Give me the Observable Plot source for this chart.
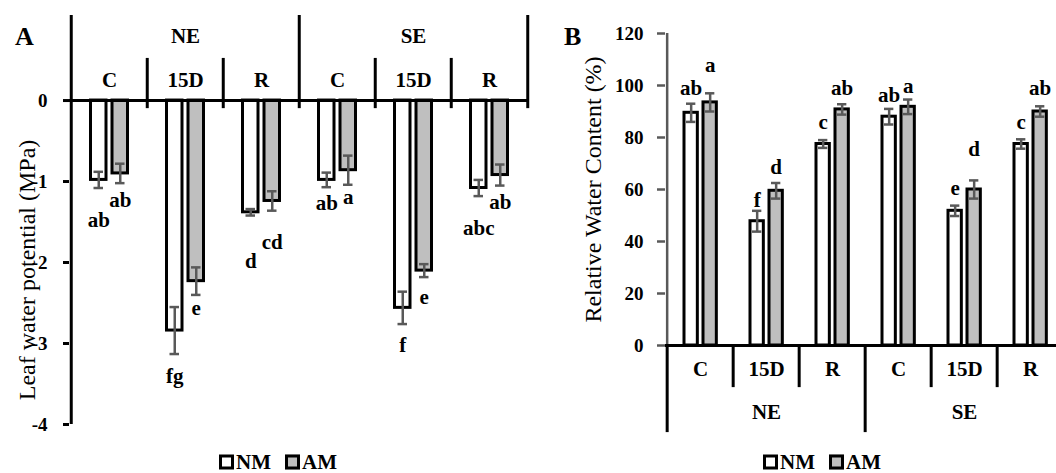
<!DOCTYPE html>
<html><head><meta charset="utf-8">
<script src="https://cdn.jsdelivr.net/npm/d3@7"></script>
<script src="https://cdn.jsdelivr.net/npm/@observablehq/plot@0.6"></script>
<style>
html,body{margin:0;padding:0;background:#fff;overflow:hidden;width:1056px;height:473px;}
#root{position:relative;width:1056px;height:473px;font-family:"Liberation Serif",serif;color:#000;}
.panel{position:absolute;top:0;}
.plabel{position:absolute;font-weight:bold;font-size:26px;line-height:1;}
.legend{position:absolute;display:flex;align-items:center;font-weight:bold;font-size:21px;line-height:1;transform:translate(-50%,-50%);}
.sw{display:inline-block;width:9px;height:9px;border:3px solid #000;margin-right:2px;}
</style></head><body><div id="root"></div>
<script>
// ---------- data ----------
const groups = ["NE", "SE"];
const stages = ["C", "15D", "R"];
const treatments = ["NM", "AM"];
// order of values: NE C, NE 15D, NE R, SE C, SE 15D, SE R
// Panel A: leaf water potential (MPa)
const lwpNM = [-0.98, -2.84, -1.38, -0.98, -2.56, -1.08];
const lwpNMerr = [0.10, 0.29, 0.04, 0.09, 0.20, 0.10];
const lwpAM = [-0.90, -2.23, -1.24, -0.86, -2.10, -0.92];
const lwpAMerr = [0.12, 0.17, 0.12, 0.18, 0.08, 0.13];
const lwpLetNM = ["ab", "fg", "d", "ab", "f", "abc"];
const lwpLetAM = ["ab", "e", "cd", "a", "e", "ab"];
const lwpLetAtNM = [-1.48, -3.40, -1.98, -1.27, -3.02, -1.58];
const lwpLetAtAM = [-1.23, -2.56, -1.75, -1.20, -2.43, -1.26];
const lwpTicks = [0, -1, -2, -3, -4];
// Panel B: relative water content (%)
const rwcNM = [89.5, 47.8, 77.5, 88.0, 51.8, 77.5];
const rwcNMerr = [3.5, 4.0, 1.5, 3.0, 2.0, 1.8];
const rwcAM = [93.5, 59.5, 90.8, 91.8, 60.0, 90.0];
const rwcAMerr = [3.5, 3.0, 2.0, 2.8, 3.5, 2.0];
const rwcLetNM = ["ab", "f", "c", "ab", "e", "c"];
const rwcLetAM = ["a", "d", "ab", "a", "d", "ab"];
const rwcLetAtNM = [98.8, 55.8, 85.8, 96.2, 60.4, 85.8];
const rwcLetAtAM = [107.7, 68.5, 98.8, 99.6, 75.4, 98.8];
const rwcTicks = [0, 20, 40, 60, 80, 100, 120];

// ---------- build tables ----------
const combos = groups.flatMap(g => stages.map(s => g + " " + s));
function rows(nm, nmE, am, amE, lNM, lAM, atNM, atAM) {
  return combos.flatMap((c, i) => [
    {combo: c, trt: "NM", v: nm[i], e: nmE[i], letter: lNM[i], at: atNM[i]},
    {combo: c, trt: "AM", v: am[i], e: amE[i], letter: lAM[i], at: atAM[i]}
  ]);
}
const rowsA = rows(lwpNM, lwpNMerr, lwpAM, lwpAMerr, lwpLetNM, lwpLetAM, lwpLetAtNM, lwpLetAtAM);
const rowsB = rows(rwcNM, rwcNMerr, rwcAM, rwcAMerr, rwcLetNM, rwcLetAM, rwcLetAtNM, rwcLetAtAM);

const FONT = "Liberation Serif, serif";
const ERR = "#595959";
const FILL = {NM: "#ffffff", AM: "#bfbfbf"};

function seriesMarks(data, bw, geom, letterSize) {
  const marks = [];
  for (const t of treatments) {
    const d = data.filter(r => r.trt === t);
    const g = geom[t];
    marks.push(Plot.barY(d, {x: "combo", y: "v", fill: FILL[t], stroke: "#000", strokeWidth: 3,
      insetLeft: g.c - g.w / 2, insetRight: bw - g.c - g.w / 2}));
  }
  for (const t of treatments) {
    const d = data.filter(r => r.trt === t);
    const g = geom[t];
    const dx = g.c - bw / 2;
    const capIn = {insetLeft: g.c - geom.cap / 2, insetRight: bw - g.c - geom.cap / 2};
    marks.push(Plot.ruleX(d, {x: "combo", y1: r => r.v - r.e, y2: r => r.v + r.e, dx, stroke: ERR, strokeWidth: 2.5}));
    marks.push(Plot.tickY(d, {x: "combo", y: r => r.v - r.e, stroke: ERR, strokeWidth: 2.5, ...capIn}));
    marks.push(Plot.tickY(d, {x: "combo", y: r => r.v + r.e, stroke: ERR, strokeWidth: 2.5, ...capIn}));
    marks.push(Plot.text(d, {x: "combo", y: "at", text: "letter", dx, fontWeight: "bold", fontSize: letterSize, fill: "#000"}));
  }
  return marks;
}

const root = document.getElementById("root");

// ---------- Panel A ----------
{
  const W = 530, H = 440, mL = 69, mR = 2, mT = 15, mB = 16;
  const bw = (W - mL - mR) / combos.length;
  const yTop = 1.05;
  const geom = {NM: {c: 27.5, w: 16}, AM: {c: 49, w: 16}, cap: 10};
  const subs = combos.filter(c => !c.endsWith(" C"));
  const plot = Plot.plot({
    width: W, height: H, marginLeft: mL, marginRight: mR, marginTop: mT, marginBottom: mB,
    style: {fontFamily: FONT, background: "transparent", overflow: "visible", color: "#000"},
    x: {type: "band", domain: combos, padding: 0, axis: null},
    y: {domain: [-4, yTop], axis: null},
    marks: [
      Plot.axisY({ticks: lwpTicks, tickFormat: d => String(d), tickSize: 6, tickPadding: 16,
        strokeWidth: 3, fontSize: 19, fontWeight: "bold", label: null}),
      ...seriesMarks(rowsA, bw, geom, 21),
      Plot.ruleY([0], {stroke: "#000", strokeWidth: 3}),
      Plot.ruleX([combos[0]], {x: d => d, dx: -bw / 2, y1: -4, y2: yTop, stroke: "#000", strokeWidth: 3}),
      Plot.ruleX(["SE C"], {x: d => d, dx: -bw / 2, y1: -0.1, y2: yTop, stroke: "#000", strokeWidth: 3}),
      Plot.ruleX(["SE R"], {x: d => d, dx: bw / 2, y1: -0.1, y2: yTop, stroke: "#000", strokeWidth: 3}),
      Plot.ruleX(subs, {x: d => d, dx: -bw / 2, y1: -0.1, y2: 0.52, stroke: "#000", strokeWidth: 3}),
      Plot.text(combos, {x: d => d, text: d => d.split(" ")[1], frameAnchor: "top", dy: 57, fontSize: 21, fontWeight: "bold"}),
      Plot.text(groups, {x: g => g + " 15D", text: d => d, frameAnchor: "top", dy: 13, fontSize: 21, fontWeight: "bold"}),
      Plot.text(["Leaf water potential (MPa)"], {frameAnchor: "left", textAnchor: "middle", rotate: -90, dx: -42, dy: 50, fontSize: 24})
    ]
  });
  plot.classList.add("panel");
  plot.style.left = "0px";
  root.appendChild(plot);
}

// ---------- Panel B ----------
{
  const W = 540, H = 440, mL = 135, mR = 5, mT = 33, mB = 95;
  const bw = (W - mL - mR) / combos.length;
  const geom = {NM: {c: 24, w: 14}, AM: {c: 43, w: 14}, cap: 10};
  const subs = combos.filter(c => !c.endsWith(" C"));
  const plot = Plot.plot({
    width: W, height: H, marginLeft: mL, marginRight: mR, marginTop: mT, marginBottom: mB,
    style: {fontFamily: FONT, background: "transparent", overflow: "visible", color: "#000"},
    x: {type: "band", domain: combos, padding: 0, axis: null},
    y: {domain: [0, 120], axis: null},
    marks: [
      Plot.axisY({ticks: rwcTicks, tickSize: 8, tickPadding: 14, stroke: ERR, fill: "#000",
        strokeWidth: 2.5, fontSize: 19, fontWeight: "bold", label: null}),
      Plot.ruleX([combos[0]], {x: d => d, dx: -bw / 2, y1: 0, y2: 120, stroke: ERR, strokeWidth: 2.5}),
      ...seriesMarks(rowsB, bw, geom, 21),
      Plot.ruleY([0], {stroke: "#000", strokeWidth: 3}),
      Plot.ruleX(["NE C", "SE C"], {x: d => d, dx: -bw / 2, y1: 0, y2: -33.5, stroke: "#000", strokeWidth: 3}),
      Plot.ruleX(subs, {x: d => d, dx: -bw / 2, y1: 0, y2: -16.2, stroke: "#000", strokeWidth: 3}),
      Plot.text(combos, {x: d => d, text: d => d.split(" ")[1], frameAnchor: "bottom", dy: 30, fontSize: 21, fontWeight: "bold"}),
      Plot.text(groups, {x: g => g + " 15D", text: d => d, frameAnchor: "bottom", dy: 73, fontSize: 21, fontWeight: "bold"}),
      Plot.text(["Relative Water Content (%)"], {frameAnchor: "left", textAnchor: "middle", rotate: -90, dx: -72, dy: 0, fontSize: 24})
    ]
  });
  plot.classList.add("panel");
  plot.style.left = "530px";
  root.appendChild(plot);
}

// ---------- panel letters & legends ----------
function addDiv(cls, html, left, top) {
  const d = document.createElement("div");
  d.className = cls; d.innerHTML = html;
  d.style.left = left + "px"; d.style.top = top + "px";
  root.appendChild(d);
}
addDiv("plabel", "A", 15, 24);
addDiv("plabel", "B", 564, 24);
const legendHTML = treatments.map(t =>
  `<span class="sw" style="background:${FILL[t]}"></span><span style="margin-right:14px">${t}</span>`).join("");
addDiv("legend", legendHTML, 285, 462);
addDiv("legend", legendHTML, 829, 462);
</script></body></html>
